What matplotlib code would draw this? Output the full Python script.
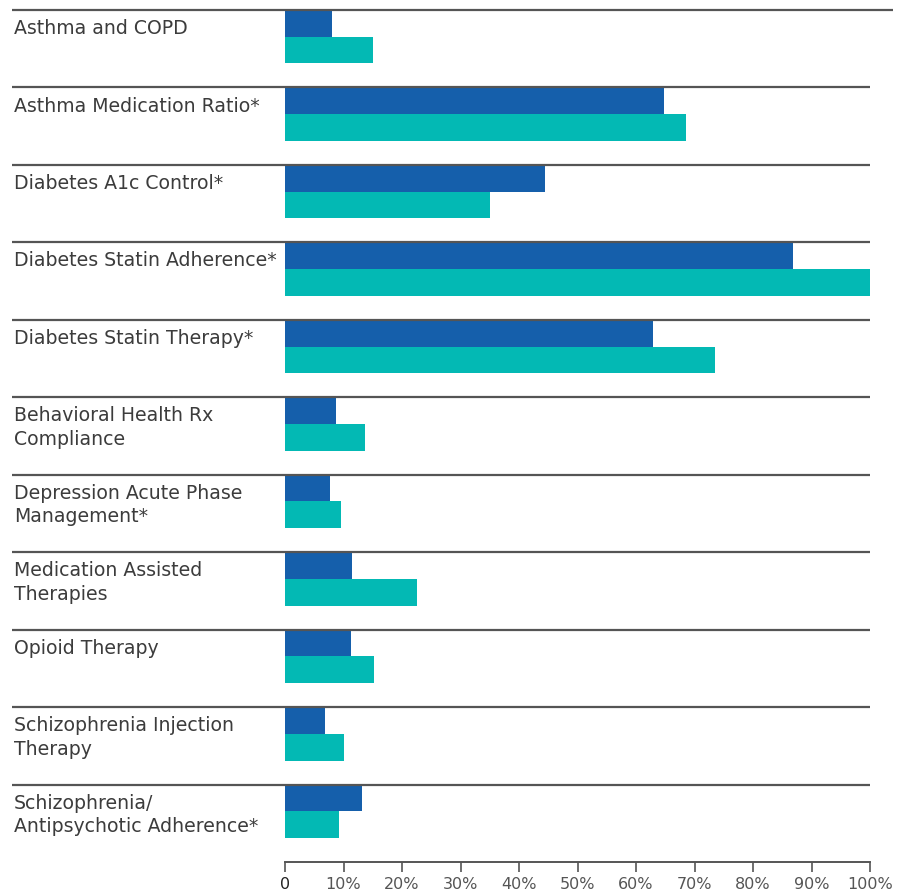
import matplotlib
matplotlib.use("Agg")
import matplotlib.pyplot as plt

categories = [
    "Asthma and COPD",
    "Asthma Medication Ratio*",
    "Diabetes A1c Control*",
    "Diabetes Statin Adherence*",
    "Diabetes Statin Therapy*",
    "Behavioral Health Rx\nCompliance",
    "Depression Acute Phase\nManagement*",
    "Medication Assisted\nTherapies",
    "Opioid Therapy",
    "Schizophrenia Injection\nTherapy",
    "Schizophrenia/\nAntipsychotic Adherence*",
]
series_blue = [8.0, 64.8, 44.4, 86.8, 62.9, 8.8, 7.7, 11.5, 11.3, 6.8, 13.1]
series_teal = [15.0, 68.5, 35.0, 100.0, 73.5, 13.7, 9.6, 22.6, 15.2, 10.1, 9.2]
tick_values = [0, 10, 20, 30, 40, 50, 60, 70, 80, 90, 100]
tick_labels = ["0", "10%", "20%", "30%", "40%", "50%", "60%", "70%", "80%", "90%", "100%"]

BLUE = "#155fab"
TEAL = "#03b9b4"
LINE = "#555555"
TEXT = "#3c3c3c"

plt.rcParams['font.family'] = ['DejaVu Sans']

W, H = 904, 895
fig = plt.figure(figsize=(W / 100, H / 100), dpi=100)
x0, x1 = 285, 870
ytop, ybot = 11, 863
ax = fig.add_axes([x0 / W, 1 - ybot / H, (x1 - x0) / W, (ybot - ytop) / H])
n = len(categories)
ax.set_xlim(0, 100)
ax.set_ylim(n, 0)

px = 100 / (x1 - x0)  # data units per pixel in x
bh = 0.345
idx = list(range(n))
ax.barh(idx, series_blue, height=bh, align='edge', color=BLUE, zorder=2)
ax.barh([i + bh for i in idx], series_teal, height=bh, align='edge', color=TEAL, zorder=2)

for i in idx:
    right = (893 - x0) * px if i == 0 else 100
    ax.hlines(i, (12 - x0) * px, right, color=LINE, lw=1.6, clip_on=False, zorder=3)
    ax.text((14 - x0) * px, i + 0.105, categories[i], ha='left', va='top',
            fontsize=13.6, color=TEXT, linespacing=1.3, clip_on=False)

for s in ['top', 'left', 'right']:
    ax.spines[s].set_visible(False)
ax.spines['bottom'].set_color(LINE)
ax.spines['bottom'].set_linewidth(1.4)
ax.set_yticks([])
ax.set_xticks(tick_values)
ax.set_xticklabels(tick_labels)
ax.tick_params(axis='x', direction='out', length=7, width=1.2, color=LINE,
               labelsize=11.5, labelcolor='#555555', pad=3)
ax.get_xticklabels()[0].set_color('#222222')

fig.savefig("out.png", dpi=100)
